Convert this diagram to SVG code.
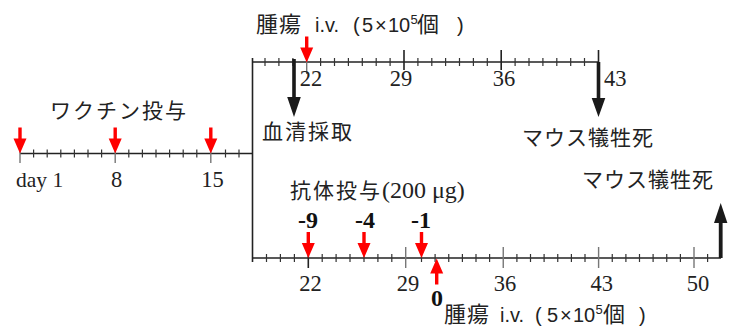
<svg xmlns="http://www.w3.org/2000/svg" width="731" height="327" viewBox="0 0 731 327">
<style>
.ax{stroke:#222;stroke-width:1.6;fill:none}
.mn{stroke:#333;stroke-width:1.2;fill:none}
.mj{stroke:#777;stroke-width:1.4;fill:none}
.jp{font-family:"Noto Sans CJK JP","Noto Sans",sans-serif;font-size:21px;fill:#222;letter-spacing:2px}
.jt{font-family:"Noto Sans CJK JP","Noto Sans",sans-serif;font-size:22px;fill:#222;letter-spacing:1px}
.num{font-family:"Liberation Serif",serif;font-size:22.5px;fill:#222}
.bn{font-family:"Liberation Serif",serif;font-size:24px;font-weight:bold;fill:#111;text-anchor:middle}
.sans{font-family:"Liberation Sans",sans-serif;font-size:20px;fill:#222}
.sup{font-family:"Liberation Sans",sans-serif;font-size:13px;fill:#222}
.red{fill:#ff0000}
.blk{fill:#1a1a1a}
</style>
<defs>
<path id="rdown" d="M-1.7,-26 H1.7 V-15 H6.5 L0,0 L-6.5,-15 H-1.7 Z"/>
</defs>
<g id="connectors">
<path class="ax" d="M20,153.5 H252.5"/>
<path class="mn" d="M33.6,149.5v8M47.2,149.5v8M60.8,149.5v8M74.4,149.5v8M88,149.5v8M101.6,149.5v8M128.8,149.5v8M142.4,149.5v8M156,149.5v8M169.6,149.5v8M183.2,149.5v8M196.8,149.5v8M225.5,149.5v8M239,149.5v8"/>
<path class="mj" d="M20,142v21M115.2,142v21M210.8,142v21"/>
<path class="ax" d="M252.5,58 V262"/>
<path class="ax" d="M252.5,62 H598.5"/>
<path class="mn" d="M265,58v8M278.9,58v8M292.9,58v8M320.6,58v8M334.5,58v8M348.4,58v8M362.3,58v8M376.2,58v8M390.1,58v8M417.9,58v8M431.8,58v8M445.6,58v8M459.5,58v8M473.4,58v8M487.3,58v8M515.1,58v8M529,58v8M542.9,58v8M556.8,58v8M570.7,58v8M584.5,58v8"/>
<path class="mj" d="M306.7,52v22"/>
<path class="ax" d="M404,50v20M501.2,50v20M598.5,50v12"/>
<path class="ax" d="M252.5,258 H721"/>
<path class="mn" d="M266.5,254v8M280.4,254v8M294.4,254v8M322.2,254v8M336.1,254v8M350,254v8M364,254v8M377.9,254v8M391.8,254v8M421.5,254v8M435.1,254v8M448.75,254v8M462.4,254v8M476,254v8M489.6,254v8M516.9,254v8M530.5,254v8M544.1,254v8M557.75,254v8M571.4,254v8M585,254v8M612.25,254v8M625.9,254v8M639.5,254v8M653.1,254v8M666.75,254v8M680.4,254v8M707.6,254v8"/>
<path class="ax" d="M308.3,247v21"/>
<path class="mj" d="M405.7,247v21M503.25,247v21M598.6,247v21M694,247v21"/>
</g>
<g id="vaccine-arrows">
<use href="#rdown" class="red" x="20" y="153.5"/>
<use href="#rdown" class="red" x="115.2" y="153.5"/>
<use href="#rdown" class="red" x="210.8" y="153.5"/>
</g>
<g id="tumor-top-arrow"><use href="#rdown" class="red" x="306.7" y="62.5"/></g>
<g id="serum-arrow"><path class="blk" d="M292.2,59 H295.8 V97 H300.8 L294,117 L287.2,97 H292.2 Z"/></g>
<g id="sacrifice-top-arrow"><path class="blk" d="M596.7,62 H600.3 V98 H605.3 L598.5,117 L591.7,98 H596.7 Z"/></g>
<g id="antibody-arrows">
<use href="#rdown" class="red" x="308.3" y="258"/>
<use href="#rdown" class="red" x="364" y="258"/>
<use href="#rdown" class="red" x="421.5" y="258"/>
</g>
<g id="tumor-bottom-arrow"><use href="#rdown" class="red" transform="translate(436.7,258.5) rotate(180)"/></g>
<g id="sacrifice-bottom-arrow"><path class="blk" d="M718.8,258 H722.6 V223 H727.4 L720.7,203 L714,223 H718.8 Z"/></g>
<g id="labels">
<text class="jp" x="50" y="118">ワクチン投与</text>
<text class="num" x="16" y="186.5" style="font-size:21.5px">day 1</text>
<text class="num" x="116.7" y="186.5" text-anchor="middle">8</text>
<text class="num" x="212.5" y="186.5" text-anchor="middle">15</text>
<text id="tumor-top" y="32"><tspan class="jt" x="256">腫瘍</tspan><tspan class="sans" x="315">i.v.</tspan><tspan class="sans" x="353">(</tspan><tspan class="sans" x="362">5</tspan><tspan class="sans" x="375">×</tspan><tspan class="sans" x="388">10</tspan><tspan class="sup" x="410.5" dy="-8">5</tspan><tspan class="jt" x="417" dy="8">個</tspan><tspan class="sans" x="457">)</tspan></text>
<text class="num" x="311" y="86" text-anchor="middle">22</text>
<text class="num" x="401" y="86" text-anchor="middle">29</text>
<text class="num" x="504" y="86" text-anchor="middle">36</text>
<text class="num" x="604" y="86">43</text>
<text class="jp" x="262" y="139">血清採取</text>
<text class="jp" x="522" y="145" style="letter-spacing:1px">マウス犠牲死</text>
<text class="jp" x="582" y="187" style="letter-spacing:1px">マウス犠牲死</text>
<text class="jp" x="290" y="198">抗体投与<tspan class="num" style="font-size:24px;letter-spacing:0">(200 μg)</tspan></text>
<text class="bn" x="308" y="228">-9</text>
<text class="bn" x="365" y="228">-4</text>
<text class="bn" x="421" y="228">-1</text>
<text class="bn" x="437" y="306">0</text>
<text class="num" x="310.5" y="291" text-anchor="middle">22</text>
<text class="num" x="408" y="291" text-anchor="middle">29</text>
<text class="num" x="505" y="291" text-anchor="middle">36</text>
<text class="num" x="601.7" y="291" text-anchor="middle">43</text>
<text class="num" x="698" y="291" text-anchor="middle">50</text>
<text id="tumor-bottom" y="322"><tspan class="jt" x="444">腫瘍</tspan><tspan class="sans" x="500">i.v.</tspan><tspan class="sans" x="535">(</tspan><tspan class="sans" x="547">5</tspan><tspan class="sans" x="560">×</tspan><tspan class="sans" x="573">10</tspan><tspan class="sup" x="595.5" dy="-8">5</tspan><tspan class="jt" x="603" dy="8">個</tspan><tspan class="sans" x="639">)</tspan></text>
</g>
</svg>
